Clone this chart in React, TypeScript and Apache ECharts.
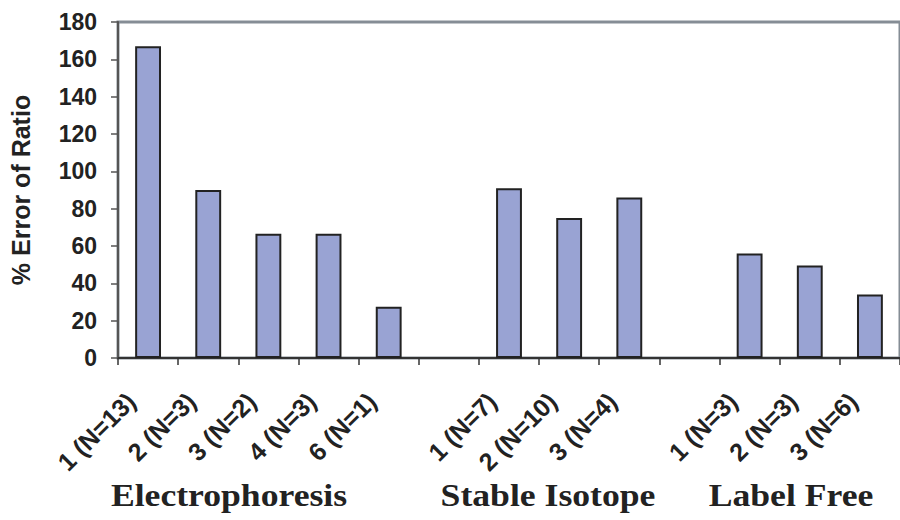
import React, { useEffect, useRef } from "react";
import * as echarts from "echarts";

const categories = [
  "1 (N=13)", "2 (N=3)", "3 (N=2)", "4 (N=3)", "6 (N=1)", "",
  "1 (N=7)", "2 (N=10)", "3 (N=4)", " ",
  "1 (N=3)", "2 (N=3)", "3 (N=6)",
];
const errorValues = [167, 90, 66.5, 66.5, 27.5, null, 91, 75, 86, null, 56, 49.5, 34];
const yTicks = { min: 0, max: 180, interval: 20 };
const groupLabels = ["Electrophoresis", "Stable Isotope", "Label Free"];
const groupCenters = [229, 548, 791];

export default function App() {
  const ref = useRef<HTMLDivElement>(null);
  useEffect(() => {
    const chart = echarts.init(ref.current!, null, { renderer: "svg" });
    chart.setOption({
      animation: false,
      backgroundColor: "#ffffff",
      grid: {
        left: 115,
        top: 22,
        width: 790,
        bottom: 162,
        show: true,
        borderColor: "#858d95",
        borderWidth: 3,
        backgroundColor: "transparent",
      },
      xAxis: {
        type: "category",
        data: categories,
        axisLine: { show: true, lineStyle: { color: "#333", width: 2 } },
        axisTick: { show: true, length: 7, lineStyle: { color: "#333", width: 1.5 } },
        axisLabel: {
          rotate: 45,
          interval: 0,
          margin: 22,
          padding: [0, 24, 0, 0],
          fontFamily: "Arial, 'Liberation Sans', sans-serif",
          fontWeight: "bold",
          fontSize: 25,
          color: "#222",
        },
      },
      yAxis: {
        type: "value",
        min: yTicks.min,
        max: yTicks.max,
        interval: yTicks.interval,
        name: "% Error of Ratio",
        nameLocation: "middle",
        nameGap: 85,
        nameTextStyle: {
          fontFamily: "Arial, 'Liberation Sans', sans-serif",
          fontWeight: "bold",
          fontSize: 25,
          color: "#222",
        },
        splitLine: { show: false },
        axisLine: { show: true, lineStyle: { color: "#555", width: 2 } },
        axisTick: { show: true, inside: false, length: 7, lineStyle: { color: "#555", width: 1.5 } },
        axisLabel: {
          margin: 21,
          fontFamily: "Arial, 'Liberation Sans', sans-serif",
          fontWeight: "bold",
          fontSize: 23,
          color: "#222",
        },
      },
      series: [
        {
          type: "bar",
          data: errorValues,
          barWidth: "43%",
          itemStyle: { color: "#99a3d3", borderColor: "#222", borderWidth: 2 },
        },
      ],
      graphic: groupLabels.map((t, i) => ({
        type: "text",
        x: groupCenters[i],
        y: 495,
        scaleX: 1.15,
        style: {
          text: t,
          font: "bold 31px 'Liberation Serif', 'Times New Roman', serif",
          fill: "#222",
          align: "center",
          verticalAlign: "middle",
        },
      })),
    });
    return () => chart.dispose();
  }, []);
  return (
    <div
      ref={ref}
      style={{ position: "fixed", left: 0, top: 0, width: 900, height: 520 }}
    />
  );
}
